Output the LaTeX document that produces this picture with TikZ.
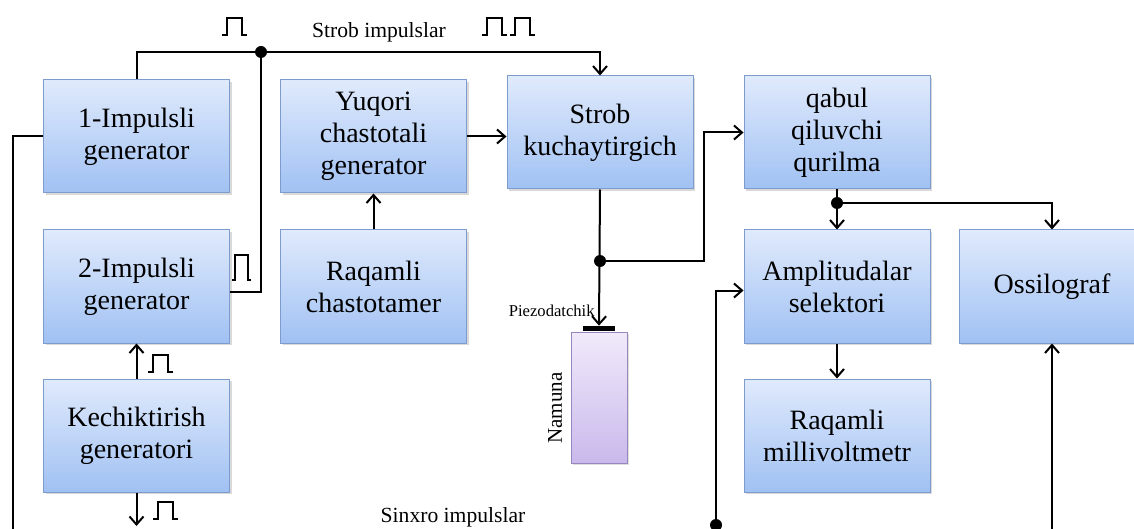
\documentclass[tikz,border=0pt]{standalone}
\usepackage{fontspec}
\setmainfont{LiberationSerif}[Extension=.ttf, UprightFont=*-Regular, BoldFont=*-Bold]
\newfontfamily\yozuv{LiberationSerif}[Extension=.ttf, UprightFont=*-Regular]
\usetikzlibrary{positioning}
\usetikzlibrary{arrows.meta,shadows}
\definecolor{blokyuqori}{RGB}{224,234,252}
\definecolor{blokpast}{RGB}{160,193,243}
\definecolor{blokchiziq}{RGB}{125,155,205}
\definecolor{namunayuqori}{RGB}{241,234,250}
\definecolor{namunapast}{RGB}{201,185,236}
\definecolor{namunachiziq}{RGB}{150,135,190}
\tikzset{blok/.style={rectangle, draw=blokchiziq, line width=0.5pt,
    top color=blokyuqori, bottom color=blokpast, align=center,
    minimum width=93pt, minimum height=56.5pt, inner sep=2pt,
    font=\yozuv\fontsize{14}{16}\selectfont,
    drop shadow={shadow xshift=1.2pt, shadow yshift=-1.2pt, opacity=0.3}}}
\tikzset{sim/.style={line width=1pt},
    strelka/.style={sim, -{Straight Barb[length=4pt,width=7pt]}},
    nuqta/.style={circle, fill=black, inner sep=0pt, minimum size=6pt},
    impuls/.pic={\draw[line width=0.6pt] (0,0) -- (5,0) -- (5,-17) -- (20,-17) -- (20,0) -- (25,0);},
    baland impuls/.pic={\draw[line width=0.6pt] (0,0) -- (3,0) -- (3,-25) -- (16,-25) -- (16,0) -- (19,0);}}

\begin{document}
\begin{tikzpicture}[x=0.5pt, y=-0.5pt, node distance=18pt and 25pt]
  \useasboundingbox (0,0) rectangle (1134,529);
  \clip (0,0) rectangle (1134,529);
  \node[blok] (imp1) at (136.5,136.5) {1-Impulsli\\generator};
  \node[blok, below=of imp1] (imp2) {2-Impulsli\\generator};
  \node[blok, below=17.5pt of imp2] (kech) {Kechiktirish\\generatori};
  \node[blok, right=of imp1] (yuq) {Yuqori\\chastotali\\generator};
  \node[blok, below=of yuq] (chast) {Raqamli\\chastotamer};
  \node[blok] (strob) at (600,132.5) {Strob\\kuchaytirgich};
  \node[blok, right=of strob] (qabul) {qabul\\qiluvchi\\qurilma};
  \node[blok, below=20pt of qabul] (amp) {Amplitudalar\\selektori};
  \node[blok, below=17.5pt of amp] (mvolt) {Raqamli\\millivoltmetr};
  \node[blok, right=14pt of amp] (osc) {Ossilograf};
  \node[rectangle, draw=namunachiziq, line width=0.5pt, top color=namunayuqori,
    bottom color=namunapast, minimum width=28pt, minimum height=65.5pt,
    drop shadow={shadow xshift=1pt, shadow yshift=-1pt, opacity=0.25}] (namuna) at (599,397.5) {};
  \node[fill=black, minimum width=16pt, minimum height=2.5pt, inner sep=0pt, anchor=south] (piezo) at (namuna.north) {};
  \node[font=\yozuv\fontsize{8.3}{10}\selectfont, anchor=base east, inner sep=0pt] (piezoyozuv) at (595,316) {Piezodatchik};
  \node[rotate=90, font=\yozuv\fontsize{10.5}{12}\selectfont] (namunayozuv) at (555,408) {Namuna};
  \node[font=\yozuv\fontsize{10.8}{12}\selectfont] (strobyozuv) at (379,32) {Strob impulslar};
  \node[font=\yozuv\fontsize{10.8}{12}\selectfont] (sinxroyozuv) at (453,517) {Sinxro impulslar};

  \coordinate (j1) at (261,52);
  \coordinate (j2) at (strob.south |- 0,261);
  \coordinate (j3) at (qabul.south |- 0,203);
  \coordinate (j4) at (716,525);
  \coordinate (chap) at (13,540);
  \coordinate (past) at (kech.south |- 0,526);
  \coordinate (ong) at (osc.south |- 0,540);

  \draw[strelka] (imp1.north) |- (j1) -| (strob.north);
  \draw[sim] (j1) |- ([yshift=-2.75pt]imp2.east);
  \draw[sim] (imp1.west) -| (chap);
  \draw[strelka] (yuq.east) -- (strob.west |- yuq.east);
  \draw[strelka] (chast) -- (yuq);
  \draw[strelka] (kech) -- (imp2);
  \draw[strelka] (kech.south) -- (past);
  \draw[strelka] (strob.south) -- (piezo.north);
  \draw[strelka] (j2) -| ([xshift=5pt]strob.east) |- (qabul.west);
  \draw[strelka] (qabul.south) -- (amp.north);
  \draw[strelka] (j3) -| (osc.north);
  \draw[strelka] (amp) -- (mvolt);
  \draw[strelka] (j4) |- ([yshift=-2pt]amp.west);
  \draw[strelka] (ong) -- (osc.south);

  \node[nuqta] (d1) at (j1) {};
  \node[nuqta] (d2) at (j2) {};
  \node[nuqta] (d3) at (j3) {};
  \node[nuqta] (d4) at (j4) {};

  \pic at (222,35) {impuls};
  \pic at (482,35) {impuls};
  \pic at (510,35) {impuls};
  \pic at (232,280) {baland impuls};
  \pic at (148,372) {impuls};
  \pic at (153,519) {impuls};
\end{tikzpicture}
\end{document}
